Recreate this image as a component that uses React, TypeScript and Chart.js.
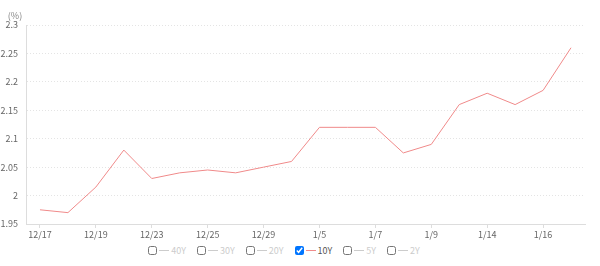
import React, { useEffect, useRef } from "react";
import { Chart, registerables } from "chart.js";

Chart.register(...registerables);

const dates = [
  "12/17", "12/18", "12/19", "12/22", "12/23", "12/24", "12/25", "12/26", "12/29", "12/30",
  "1/5", "1/6", "1/7", "1/8", "1/9", "1/13", "1/14", "1/15", "1/16", "1/19",
];
const yield10Y = [
  1.975, 1.97, 2.015, 2.08, 2.03, 2.04, 2.045, 2.04, 2.05, 2.06,
  2.12, 2.12, 2.12, 2.075, 2.09, 2.16, 2.18, 2.16, 2.185, 2.26,
];
const legendSeries = ["40Y", "30Y", "20Y", "10Y", "5Y", "2Y"];
const activeSeries = "10Y";
const yMin = 1.95;
const yMax = 2.3;
const yStep = 0.05;

const FONT = '"Noto Sans CJK JP", "Noto Sans", sans-serif';
const LINE_COLOR = "#f08a8a";

export default function App() {
  const ref = useRef<HTMLCanvasElement | null>(null);

  useEffect(() => {
    document.body.style.margin = "0";
    const canvas = ref.current;
    if (!canvas) return;
    const unitPlugin = {
      id: "unitLabel",
      afterDraw(chart: any) {
        const c = chart.ctx;
        c.save();
        c.font = `9px ${FONT}`;
        c.fillStyle = "#888";
        c.textAlign = "center";
        c.textBaseline = "middle";
        c.fillText("(%)", 15, 16);
        c.restore();
      },
    };
    const chart = new Chart(canvas, {
      type: "line",
      data: {
        labels: dates,
        datasets: [
          {
            label: activeSeries,
            data: yield10Y,
            borderColor: LINE_COLOR,
            backgroundColor: LINE_COLOR,
            borderWidth: 1,
            pointRadius: 0,
            tension: 0,
          },
        ],
      },
      options: {
        responsive: false,
        animation: false,
        layout: { padding: { top: 25, right: 15, left: 0, bottom: 0 } },
        plugins: { legend: { display: false }, tooltip: { enabled: false } },
        scales: {
          x: {
            offset: true,
            grid: {
              offset: false,
              drawOnChartArea: false,
              drawTicks: true,
              tickLength: 4,
              color: (ctx: any) => (ctx.index % 2 === 0 ? "#ddd" : "rgba(0,0,0,0)"),
            },
            border: { color: "#ddd", width: 1 },
            ticks: {
              autoSkip: false,
              maxRotation: 0,
              padding: 1,
              color: "#666",
              font: { family: FONT, size: 9 },
              callback: (_v: any, i: number) => (i % 2 === 0 ? dates[i] : ""),
            },
            afterFit: (s: any) => {
              s.height = 16;
            },
          },
          y: {
            min: yMin,
            max: yMax,
            grid: {
              drawTicks: false,
              color: "#e4e4e4",
              lineWidth: 1,
            },
            border: { color: "#ddd", width: 1, dash: [1, 2] },
            ticks: {
              stepSize: yStep,
              padding: 8,
              color: "#666",
              font: { family: FONT, size: 9 },
              callback: (v: any) => String(Number(Number(v).toFixed(2))),
            },
            afterFit: (s: any) => {
              s.width = 26;
            },
          },
        },
      },
      plugins: [unitPlugin],
    });
    return () => chart.destroy();
  }, []);

  return (
    <div style={{ position: "relative", width: 600, height: 266, background: "#fff" }}>
      <canvas ref={ref} width={600} height={240} style={{ display: "block" }} />
      <div
        style={{
          position: "absolute",
          top: 244,
          left: 0,
          width: 568,
          height: 13,
          display: "flex",
          justifyContent: "center",
          alignItems: "center",
          gap: 11,
          fontFamily: FONT,
          fontSize: 9,
        }}
      >
        {legendSeries.map((s) => {
          const on = s === activeSeries;
          return (
            <div key={s} style={{ display: "flex", alignItems: "center" }}>
              <input
                type="checkbox"
                readOnly
                checked={on}
                style={{ width: 9, height: 9, margin: 0 }}
              />
              <span
                style={{
                  display: "inline-block",
                  width: 10,
                  height: 1,
                  background: on ? LINE_COLOR : "#ccc",
                  margin: "0 2px",
                }}
              />
              <span style={{ color: on ? "#555" : "#ccc" }}>{s}</span>
            </div>
          );
        })}
      </div>
    </div>
  );
}
